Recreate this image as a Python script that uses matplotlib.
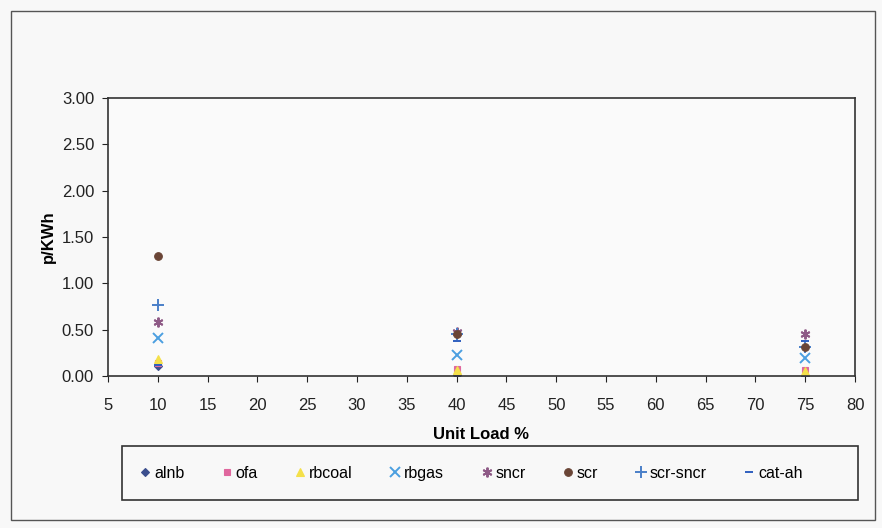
import matplotlib.pyplot as plt
from matplotlib.patches import Rectangle

plt.rcParams['font.family'] = ['Liberation Sans', 'DejaVu Sans']

unit_load = [10, 40, 75]
alnb = [0.11, 0.01, 0.00]
ofa = [0.14, 0.08, 0.07]
rbcoal = [0.18, 0.06, 0.05]
rbgas = [0.41, 0.23, 0.19]
sncr = [0.58, 0.48, 0.45]
scr = [1.29, 0.45, 0.31]
scr_sncr = [0.77, 0.45, 0.31]
cat_ah = [0.12, 0.38, 0.38]

series = [
    ("alnb", alnb, "D", "#3c4f8e", 4.5),
    ("ofa", ofa, "s", "#e0679e", 5),
    ("rbcoal", rbcoal, "^", "#f4e04a", 6),
    ("rbgas", rbgas, "x", "#4b9fe0", 7),
    ("sncr", sncr, (6, 2, 0), "#8e5a86", 7),
    ("scr-sncr", scr_sncr, "+", "#4a7fc8", 8),
    ("scr", scr, "o", "#6a4536", 5.5),
    ("cat-ah", cat_ah, "_", "#2f5fbf", 6),
]
legend_order = ["alnb", "ofa", "rbcoal", "rbgas", "sncr", "scr", "scr-sncr", "cat-ah"]

fig = plt.figure(figsize=(8.82, 5.28), dpi=100, facecolor="#f8f8f8")
fig.patches.append(Rectangle((0.012, 0.015), 0.98, 0.965, transform=fig.transFigure,
                             fill=False, edgecolor="#555555", lw=1))

ax = fig.add_axes([0.1224, 0.2879, 0.8470, 0.5265])
ax.set_facecolor("#fafafa")

for name, vals, marker, color, size in series:
    ax.plot(unit_load, vals, linestyle="none", marker=marker, color=color,
            markersize=size, markeredgewidth=1.4 if marker in ("x", "+", "_", (6, 2, 0)) else 0.8,
            label=name)

ax.set_xlim(5, 80)
ax.set_ylim(0, 3)
ax.set_xticks(range(5, 81, 5))
ax.set_yticks([0, 0.5, 1, 1.5, 2, 2.5, 3])
ax.set_yticklabels([f"{v:.2f}" for v in [0, 0.5, 1, 1.5, 2, 2.5, 3]])
ax.tick_params(labelsize=12, length=4, direction="out", colors="#222222")
ax.tick_params(axis="x", pad=12)
ax.tick_params(axis="y", pad=6)
for s in ax.spines.values():
    s.set_color("#333333")
    s.set_linewidth(1.2)

ax.set_xlabel("Unit Load %", fontsize=12, fontweight="bold", labelpad=10)
ax.set_ylabel("p/KWh", fontsize=12, fontweight="bold", labelpad=4)

handles, labels = ax.get_legend_handles_labels()
lookup = dict(zip(labels, handles))
fig.patches.append(Rectangle((0.1383, 0.053), 0.8345, 0.102, transform=fig.transFigure,
                             fill=False, edgecolor="#333333", lw=1.2))
leg = fig.legend([lookup[n] for n in legend_order], legend_order,
                 loc="center", bbox_to_anchor=(0.152, 0.053, 0.765, 0.102),
                 mode="expand", ncol=8, fontsize=11.5, frameon=False,
                 handlelength=0.6, handletextpad=0.25, borderaxespad=0)

fig.savefig("out.png", dpi=100, facecolor=fig.get_facecolor())
